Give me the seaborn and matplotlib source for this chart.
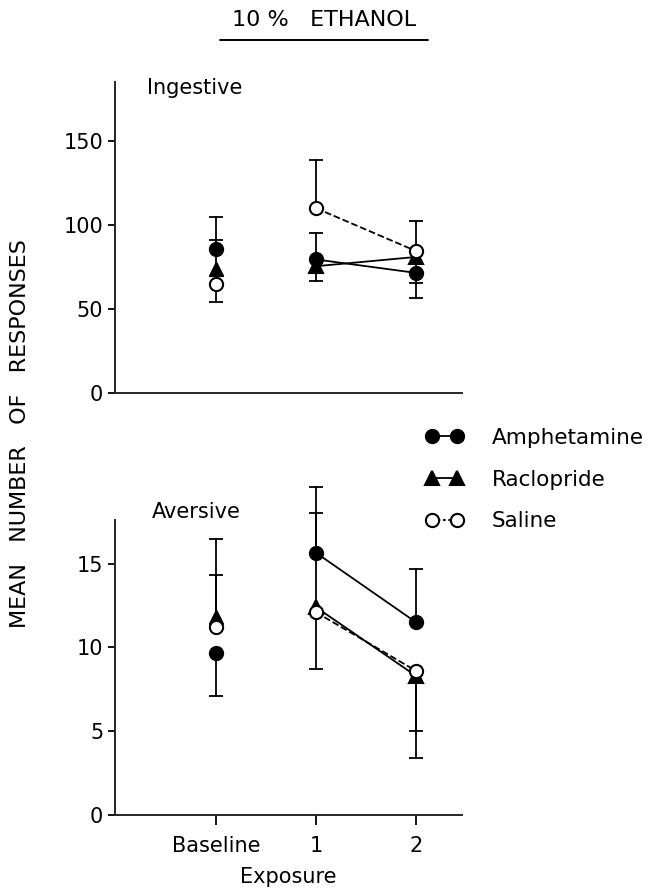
import matplotlib
matplotlib.use("Agg")
import matplotlib.pyplot as plt
from matplotlib.lines import Line2D
import seaborn as sns

# --- DATA ---
x_pos = [0, 1, 2]
x_labels = ["Baseline", "1", "2"]
conditions = ["Amphetamine", "Raclopride", "Saline"]

# Ingestive responses
ing_amph = [86, 79.5, 71.5]
ing_racl = [74, 75.5, 81]
ing_sal = [65, 110, 84.5]
# one-sided SEM bars (lower / upper), 0 = not drawn
ing_amph_lo = [0, 0, 6]
ing_amph_hi = [19, 16, 0]
ing_racl_lo = [0, 9, 24.5]
ing_racl_hi = [17, 0, 0]
ing_sal_lo = [11, 0, 0]
ing_sal_hi = [0, 28.5, 18]

# Aversive responses
av_amph = [9.7, 15.65, 11.5]
av_racl = [11.8, 12.4, 8.3]
av_sal = [11.25, 12.1, 8.6]
av_amph_lo = [2.6, 0, 0]
av_amph_hi = [0, 3.95, 3.2]
av_racl_lo = [0, 0, 4.9]
av_racl_hi = [4.7, 5.6, 0]
av_sal_lo = [0, 3.4, 3.6]
av_sal_hi = [3.05, 0, 0]

ing_yticks = [0, 50, 100, 150]
av_yticks = [0, 5, 10, 15]

# --- STYLE ---
sns.set_style("ticks")
plt.rcParams['font.family'] = ['DejaVu Sans']
plt.rcParams['text.color'] = 'black'
plt.rcParams['axes.labelcolor'] = 'black'
plt.rcParams['xtick.color'] = 'black'
plt.rcParams['ytick.color'] = 'black'
FS = 15
MS = 9.5
LW = 1.3

styles = {
    "Amphetamine": dict(marker="o", mfc="black", ls="-"),
    "Raclopride": dict(marker="^", mfc="black", ls="-"),
    "Saline": dict(marker="o", mfc="white", ls="--"),
}


def one_sided_bar(ax, x, y, d):
    # vertical bar from the mean to mean+d, with a cap at the end only
    end = y + d
    ax.plot([x, x], [y, end], color="black", lw=LW, zorder=2, clip_on=False)
    ax.plot([x], [end], marker="_", ms=9.5, mew=LW, color="black",
            zorder=2, clip_on=False)


def draw_panel(ax, series, lows, highs):
    for cond in conditions:
        vals = series[cond]
        st = styles[cond]
        # lines connect exposures 1 and 2 only
        sns.lineplot(x=x_pos[1:], y=vals[1:], ax=ax, color="black", lw=LW,
                     linestyle=st["ls"], marker=st["marker"], markersize=MS,
                     markerfacecolor=st["mfc"], markeredgecolor="black",
                     markeredgewidth=1.5, zorder=3, clip_on=False)
        sns.scatterplot(x=x_pos[:1], y=vals[:1], ax=ax, marker=st["marker"],
                        s=MS ** 2, color=st["mfc"], edgecolor="black",
                        linewidth=1.5, zorder=4, clip_on=False)
        for i in range(3):
            if lows[cond][i] > 0:
                one_sided_bar(ax, x_pos[i], vals[i], -lows[cond][i])
            if highs[cond][i] > 0:
                one_sided_bar(ax, x_pos[i], vals[i], highs[cond][i])


fig = plt.figure(figsize=(6.5, 8.88), dpi=100)
ax1 = fig.add_axes([0.177, 0.5574, 0.534, 0.350])
ax2 = fig.add_axes([0.177, 0.0822, 0.534, 0.332])

draw_panel(ax1,
           {"Amphetamine": ing_amph, "Raclopride": ing_racl, "Saline": ing_sal},
           {"Amphetamine": ing_amph_lo, "Raclopride": ing_racl_lo, "Saline": ing_sal_lo},
           {"Amphetamine": ing_amph_hi, "Raclopride": ing_racl_hi, "Saline": ing_sal_hi})
draw_panel(ax2,
           {"Amphetamine": av_amph, "Raclopride": av_racl, "Saline": av_sal},
           {"Amphetamine": av_amph_lo, "Raclopride": av_racl_lo, "Saline": av_sal_lo},
           {"Amphetamine": av_amph_hi, "Raclopride": av_racl_hi, "Saline": av_sal_hi})

for ax in (ax1, ax2):
    sns.despine(ax=ax)
    ax.set_xlim(-1.01, 2.46)
    ax.spines["left"].set_linewidth(1.4)
    ax.spines["bottom"].set_linewidth(1.4)
    ax.tick_params(axis="both", direction="out", length=5, width=1.3,
                   labelsize=FS)
    ax.set_ylabel("")
    ax.set_xlabel("")

ax1.set_ylim(0, 185)
ax1.set_yticks(ing_yticks)
ax1.set_xticks([])
ax1.text(0.092, 0.98, "Ingestive", transform=ax1.transAxes, fontsize=FS,
         va="center", ha="left")

ax2.set_ylim(0, 17.6)
ax2.set_yticks(av_yticks)
ax2.set_xticks(x_pos)
ax2.set_xticklabels(x_labels)
ax2.tick_params(axis="x", length=7, pad=8)
ax2.set_xlabel("Exposure", fontsize=FS, labelpad=8)
ax2.text(0.107, 1.027, "Aversive", transform=ax2.transAxes, fontsize=FS,
         va="center", ha="left")

fig.text(0.031, 0.512, "MEAN   NUMBER   OF   RESPONSES", rotation=90,
         fontsize=16, ha="center", va="center")
fig.text(0.498, 0.977, "10 %   ETHANOL", fontsize=16, ha="center", va="center")
fig.add_artist(Line2D([0.338, 0.658], [0.955, 0.955], color="black", lw=1.4))

handles = []
for c in conditions:
    h = Line2D([], [], color="black", lw=LW, ls=styles[c]["ls"],
               marker=styles[c]["marker"], markersize=MS,
               markerfacecolor=styles[c]["mfc"], markeredgecolor="black",
               markeredgewidth=1.5)
    if styles[c]["ls"] == "--":
        h.set_dashes((1.6, 1.4))
    handles.append(h)
fig.legend(handles, conditions, loc="upper left",
           bbox_to_anchor=(0.655, 0.518), frameon=False, fontsize=15.5,
           numpoints=2, handlelength=1.75, handletextpad=1.3,
           labelspacing=1.0, borderpad=0, borderaxespad=0)

fig.savefig("out.png", dpi=100)
